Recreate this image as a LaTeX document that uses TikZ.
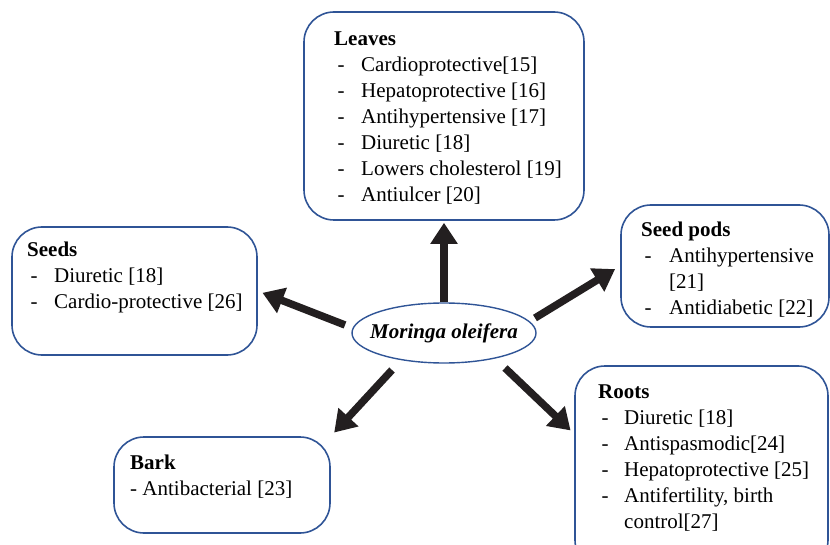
\documentclass[tikz,border=0pt]{standalone}
\usepackage{fontspec}
\setmainfont{Liberation Serif}
\usetikzlibrary{arrows.meta, shapes.geometric}
\definecolor{boxblue}{RGB}{47,84,150}
\definecolor{ink}{RGB}{35,31,32}
\tikzset{
  box/.style={draw=boxblue, line width=1.6pt, rounded corners=30pt, inner sep=0pt},
  txt/.style={anchor=north west, inner sep=0pt, font=\fontsize{21}{26}\selectfont},
  arr/.style={ink, line width=7.5pt, -{Triangle[length=21pt, width=26pt]}}
}
\begin{document}
\begin{tikzpicture}[x=1pt, y=-1pt]
            \clip (0, 0) rectangle (830, 545);
            \useasboundingbox (0, 0) rectangle (830, 545);
            \node[box, minimum width=280pt, minimum height=208pt](leaves) at (444, 116){};
            \node[box, minimum width=245pt, minimum height=128pt](seeds) at (134.5, 291){};
            \node[box, minimum width=208pt, minimum height=122pt](pods) at (725, 266){};
            \node[box, minimum width=216pt, minimum height=96pt](bark) at (222, 485){};
            \node[box, minimum width=253pt, minimum height=204pt](roots) at (701.5, 468){};
            \node[ellipse, draw=boxblue, line width=1.4pt, minimum width=184pt, minimum height=60pt, inner xsep=-16pt, inner ysep=0pt,
                font=\fontsize{21}{26}\selectfont\bfseries\itshape](mo) at (444, 333){Moringa oleifera};
            \node[txt](leaves text) at (334, 27){\begin{tabular}{@{}p{27pt}@{}l@{}}
                \multicolumn{2}{@{}l@{}}{\textbf{Leaves}}\\
                \,- & Cardioprotective[15]\\
                \,- & Hepatoprotective [16]\\
                \,- & Antihypertensive [17]\\
                \,- & Diuretic [18]\\
                \,- & Lowers cholesterol [19]\\
                \,- & Antiulcer [20]
            \end{tabular}};
            \node[txt](seeds text) at (27, 238){\begin{tabular}{@{}p{27pt}@{}l@{}}
                \multicolumn{2}{@{}l@{}}{\textbf{Seeds}}\\
                \,- & Diuretic [18]\\
                \,- & Cardio-protective [26]
            \end{tabular}};
            \node[txt](pods text) at (641, 218){\begin{tabular}{@{}p{28pt}@{}l@{}}
                \multicolumn{2}{@{}l@{}}{\textbf{Seed pods}}\\
                \,- & Antihypertensive\\
                    & [21]\\
                \,- & Antidiabetic [22]
            \end{tabular}};
            \node[txt](roots text) at (598, 380){\begin{tabular}{@{}p{26pt}@{}l@{}}
                \multicolumn{2}{@{}l@{}}{\textbf{Roots}}\\
                \,- & Diuretic [18]\\
                \,- & Antispasmodic[24]\\
                \,- & Hepatoprotective [25]\\
                \,- & Antifertility, birth\\
                    & control[27]
            \end{tabular}};
            \node[txt](bark text) at (130, 451){\begin{tabular}{@{}l@{}}
                \textbf{Bark}\\
                - Antibacterial [23]
            \end{tabular}};
            \coordinate (tl) at (345, 325);
            \coordinate (tr) at (535, 318);
            \coordinate (tbl) at (392, 370);
            \coordinate (tbr) at (505, 368);
            \draw[arr, shorten >=2pt](mo.north)--(leaves.south);
            \draw[arr, shorten >=5pt](tl)--(seeds.east);
            \draw[arr, shorten >=6pt](tr)--(pods.west);
            \draw[arr, shorten >=5pt](tbl)--(bark.north east);
            \draw[arr, shorten >=5pt](tbr)--(roots.165);
        \end{tikzpicture}
\end{document}
